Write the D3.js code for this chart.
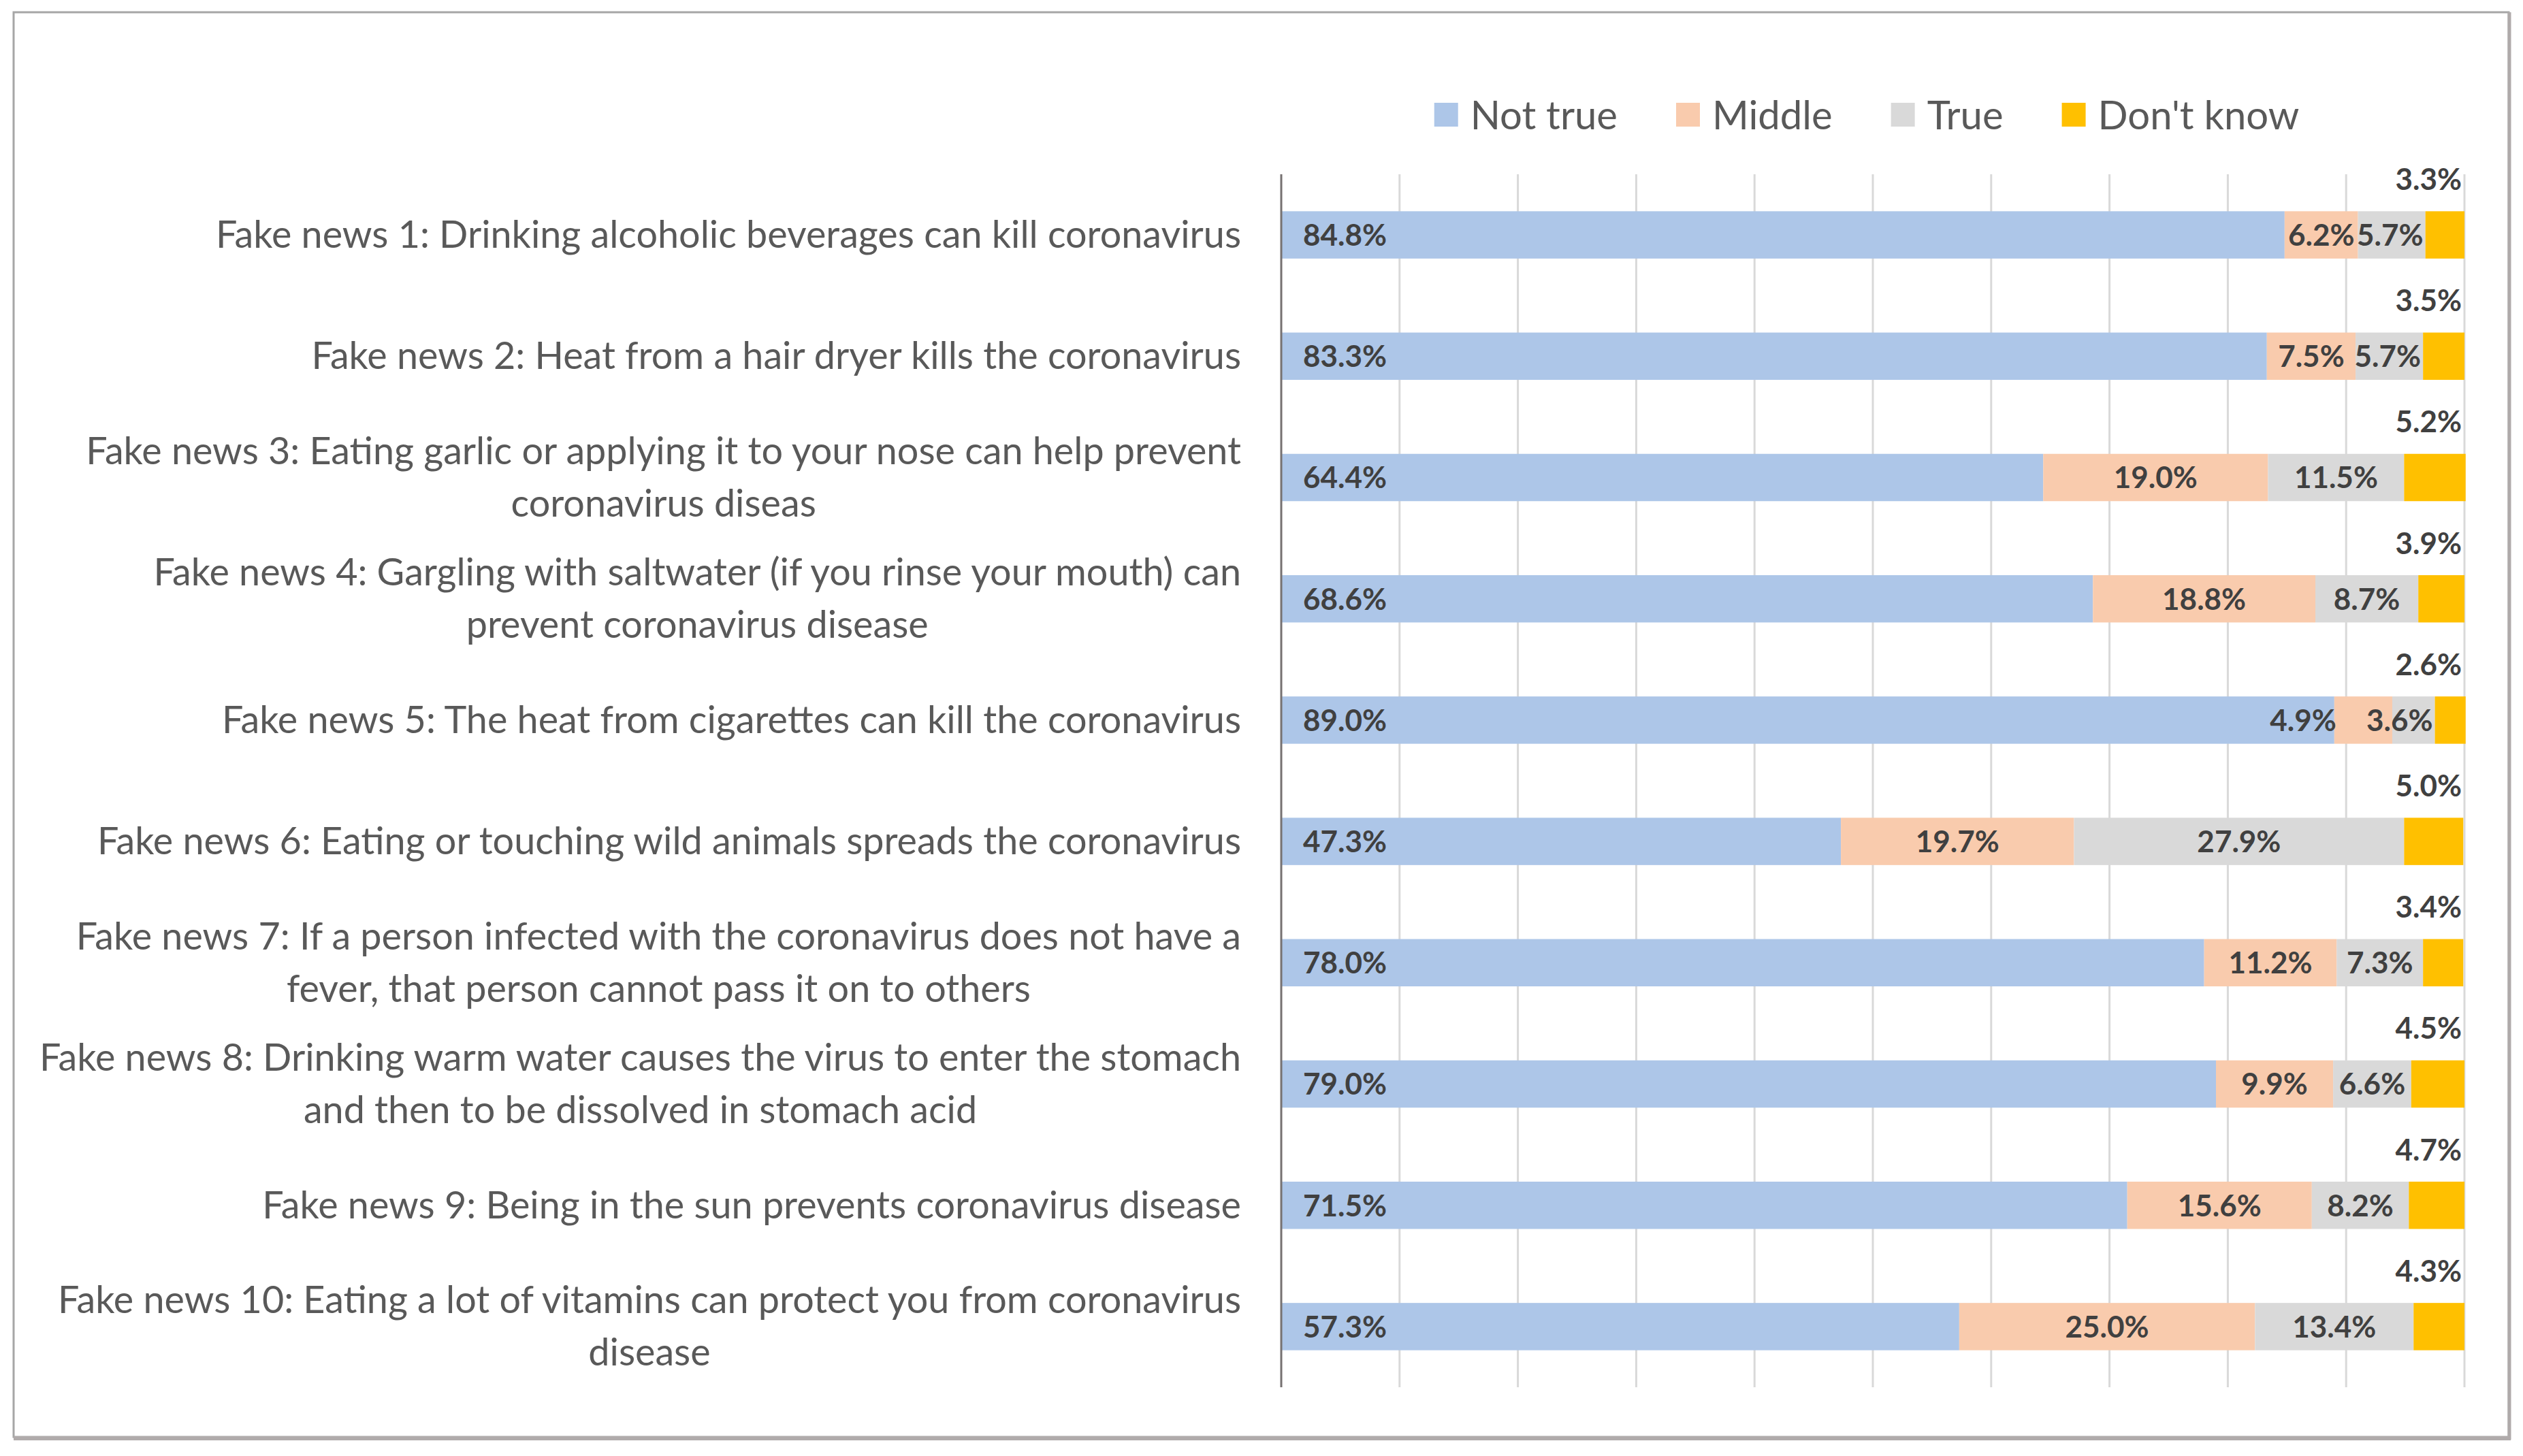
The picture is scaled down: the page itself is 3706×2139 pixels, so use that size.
<!DOCTYPE html>
<html>
<head>
<meta charset="utf-8">
<script src="https://cdn.jsdelivr.net/npm/d3@7"></script>
<style>
  html, body { margin: 0; padding: 0; background: #ffffff; }
  svg { display: block; }
  text { font-family: Lato, "Open Sans", sans-serif; }
</style>
</head>
<body>
<svg id="chart" width="3706" height="2139"></svg>
<script>
// ---------------- data ----------------
const categories = [
  ["Fake news 1: Drinking alcoholic beverages can kill coronavirus"],
  ["Fake news 2: Heat from a hair dryer kills the coronavirus"],
  ["Fake news 3: Eating garlic or applying it to your nose can help prevent", "coronavirus diseas"],
  ["Fake news 4: Gargling with saltwater (if you rinse your mouth) can", "prevent coronavirus disease"],
  ["Fake news 5: The heat from cigarettes can kill the coronavirus"],
  ["Fake news 6: Eating or touching wild animals spreads the coronavirus"],
  ["Fake news 7: If a person infected with the coronavirus does not have a", "fever, that person cannot pass it on to others"],
  ["Fake news 8: Drinking warm water causes the virus to enter the stomach", "and then to be dissolved in stomach acid"],
  ["Fake news 9: Being in the sun prevents coronavirus disease"],
  ["Fake news 10: Eating a lot of vitamins can protect you from coronavirus", "disease"]
];
const seriesNames = ["Not true", "Middle", "True", "Don't know"];
const notTrue  = [84.8, 83.3, 64.4, 68.6, 89.0, 47.3, 78.0, 79.0, 71.5, 57.3];
const middle   = [6.2, 7.5, 19.0, 18.8, 4.9, 19.7, 11.2, 9.9, 15.6, 25.0];
const trueVals = [5.7, 5.7, 11.5, 8.7, 3.6, 27.9, 7.3, 6.6, 8.2, 13.4];
const dontKnow = [3.3, 3.5, 5.2, 3.9, 2.6, 5.0, 3.4, 4.5, 4.7, 4.3];
const xTicks   = [0, 10, 20, 30, 40, 50, 60, 70, 80, 90, 100];
const colors   = ["#adc6e8", "#f9cbad", "#d9d9d9", "#ffc000"];

// ---------------- setup ----------------
const svg = d3.select("#chart");
const plot = { left: 1882, right: 3620, top: 256, bottom: 2038 };

const rows = categories.map((c, i) => ({
  key: "r" + i, lines: c,
  "Not true": notTrue[i], "Middle": middle[i], "True": trueVals[i], "Don't know": dontKnow[i]
}));

const x = d3.scaleLinear().domain([0, 100]).range([plot.left, plot.right]);
const y = d3.scaleBand().domain(rows.map(r => r.key))
  .range([plot.top, plot.bottom]).paddingInner(0.61).paddingOuter(0.305);
const color = d3.scaleOrdinal().domain(seriesNames).range(colors);
const fmt = v => d3.format(".1f")(v) + "%";

// border
svg.append("rect").attr("x", 20).attr("y", 18).attr("width", 3665).attr("height", 2093)
  .attr("fill", "#fff").attr("stroke", "#a6a6a6").attr("stroke-width", 3);
svg.append("line").attr("x1", 3686).attr("x2", 3686).attr("y1", 18).attr("y2", 2115)
  .attr("stroke", "#b0abab").attr("stroke-width", 5);
svg.append("line").attr("x1", 20).attr("x2", 3688).attr("y1", 2113).attr("y2", 2113)
  .attr("stroke", "#b0abab").attr("stroke-width", 6);

// gridlines
svg.append("g").selectAll("line").data(xTicks.filter(t => t > 0)).join("line")
  .attr("x1", d => x(d)).attr("x2", d => x(d))
  .attr("y1", plot.top).attr("y2", plot.bottom)
  .attr("stroke", "#d9d9d9").attr("stroke-width", 3);

// stacked bars
const stacked = d3.stack().keys(seriesNames)(rows);
const gBars = svg.append("g");
stacked.forEach(layer => {
  gBars.append("g").attr("fill", color(layer.key))
    .selectAll("rect").data(layer).join("rect")
    .attr("x", d => x(d[0]))
    .attr("y", d => y(d.data.key))
    .attr("width", d => x(d[1]) - x(d[0]))
    .attr("height", y.bandwidth());
});

// axis line
svg.append("line").attr("x1", x(0)).attr("x2", x(0))
  .attr("y1", plot.top).attr("y2", plot.bottom)
  .attr("stroke", "#767171").attr("stroke-width", 3);

// category labels
const catFont = 55.7;
const gCat = svg.append("g").attr("fill", "#595959").style("font-size", catFont + "px");
rows.forEach(r => {
  const cy = y(r.key) + y.bandwidth() / 2;
  const labelRight = plot.left - 59;
  const tmp = r.lines.map(l => gCat.append("text").text(l));
  const widths = tmp.map(t => t.node().getComputedTextLength());
  const blockW = d3.max(widths);
  const n = r.lines.length;
  const lineH = 77;
  tmp.forEach((t, j) => {
    const off = (j - (n - 1) / 2) * lineH;
    t.attr("x", labelRight - blockW / 2).attr("text-anchor", "middle")
      .attr("y", cy + off + 19);
  });
});

// data labels
const lblFont = 44;
const gLbl = svg.append("g").attr("fill", "#404040").style("font-size", lblFont + "px")
  .style("font-weight", "bold");
const base = lblFont * 0.36;
rows.forEach((r, i) => {
  const cy = y(r.key) + y.bandwidth() / 2;
  const segs = stacked.map(layer => layer[i]);
  // Not true: inside base
  gLbl.append("text").attr("x", x(0) + 32).attr("y", cy + base).text(fmt(r["Not true"]));
  // True label
  const tT = gLbl.append("text").text(fmt(r["True"])).attr("y", cy + base);
  const wT = tT.node().getComputedTextLength();
  const sT = segs[2];
  let rT = Math.min((x(sT[0]) + x(sT[1])) / 2 + wT / 2, x(sT[1]) - 3);
  tT.attr("x", rT - wT);
  // Middle label
  const tM = gLbl.append("text").text(fmt(r["Middle"])).attr("y", cy + base);
  const wM = tM.node().getComputedTextLength();
  const sM = segs[1];
  let rM = Math.min((x(sM[0]) + x(sM[1])) / 2 + wM / 2, x(sM[1]) - 3);
  if (rM > rT - wT) rM = x(sM[0]) + 3;
  tM.attr("x", rM - wM);
  // Don't know: above the segment
  const tD = gLbl.append("text").text(fmt(r["Don't know"])).attr("y", cy - 82 + base);
  const wD = tD.node().getComputedTextLength();
  const sD = segs[3];
  const rD = Math.min((x(sD[0]) + x(sD[1])) / 2 + wD / 2, x(100) - 4);
  tD.attr("x", rD - wD);
});

// legend
const legFont = 58;
const gLeg = svg.append("g").style("font-size", legFont + "px").attr("fill", "#595959");
const items = seriesNames.map(name => {
  const g = gLeg.append("g");
  g.append("rect").attr("width", 35).attr("height", 35).attr("y", 151).attr("fill", color(name));
  const t = g.append("text").attr("x", 53).attr("y", 190).text(name);
  return { g, w: 53 + t.node().getComputedTextLength() };
});
const gap = 86;
const total = d3.sum(items, d => d.w) + gap * (items.length - 1);
let cx = 2742 - total / 2;
items.forEach(it => { it.g.attr("transform", `translate(${cx},0)`); cx += it.w + gap; });
</script>
</body>
</html>
